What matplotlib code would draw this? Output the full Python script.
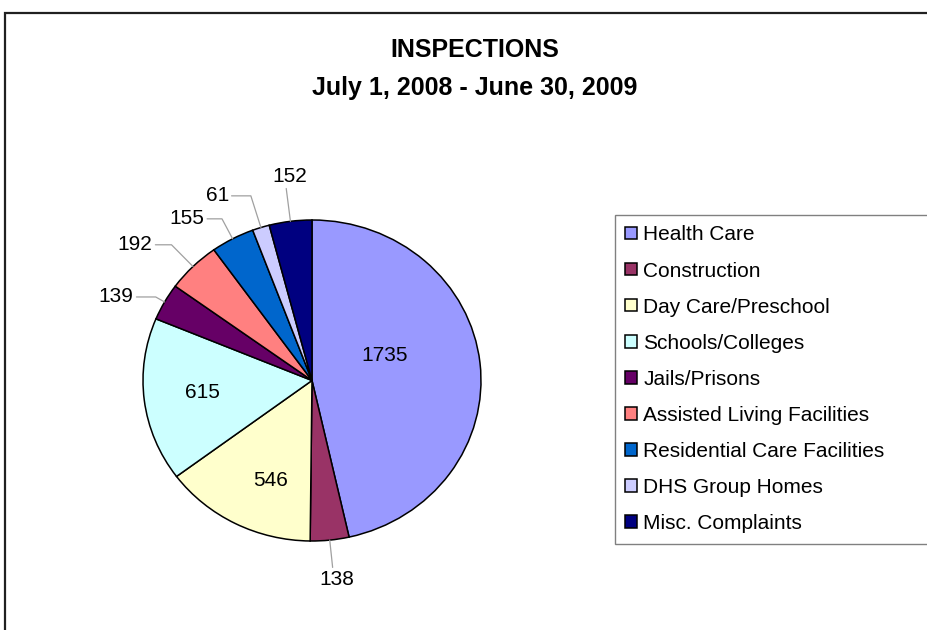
import matplotlib.pyplot as plt
import numpy as np
from matplotlib.patches import Rectangle

categories = ["Health Care", "Construction", "Day Care/Preschool", "Schools/Colleges",
              "Jails/Prisons", "Assisted Living Facilities", "Residential Care Facilities",
              "DHS Group Homes", "Misc. Complaints"]
counts = [1735, 138, 546, 615, 139, 192, 155, 61, 152]
colors = ["#9999FF", "#993366", "#FFFFCC", "#CCFFFF", "#660066",
          "#FF8080", "#0066CC", "#CCCCFF", "#000080"]

# where each value label goes: (radius, angle nudge in degrees)
# radius < 1 -> inside the slice, otherwise outside with a leader line
label_pos = [(0.46, 13.6), (1.25, 0.8), (0.67, 5.7), (0.65, -0.5), (1.27, 5.1),
             (1.345, 6.3), (1.25, 8.3), (1.28, 8.4), (1.28, -1.3)]

plt.rcParams['font.family'] = ['Liberation Sans', 'DejaVu Sans']

fig = plt.figure(figsize=(9.27, 6.30), dpi=100)

# outer chart frame (runs off the right and bottom of the picture)
fig.add_artist(Rectangle((5 / 927, -0.1), 2, 1 - 13 / 630 + 0.1, transform=fig.transFigure,
                         fill=False, edgecolor='#202020', linewidth=1.6))

fig.text(475 / 927, 1 - 50 / 630, 'INSPECTIONS', ha='center', va='center',
         fontsize=18, fontweight='bold')
fig.text(475 / 927, 1 - 88 / 630, 'July 1, 2008 - June 30, 2009', ha='center', va='center',
         fontsize=18, fontweight='bold')

ax = fig.add_axes([143 / 927, 89 / 630, 338 / 927, 321 / 630])
wedges, _ = ax.pie(counts, colors=colors, startangle=90, counterclock=False,
                   wedgeprops=dict(edgecolor='black', linewidth=1.1))
ax.set_aspect('auto')
ax.set_xlim(-1, 1)
ax.set_ylim(-1, 1)

for w, n, (r, nudge) in zip(wedges, counts, label_pos):
    mid = (w.theta1 + w.theta2) / 2
    ang = np.deg2rad(mid + nudge)
    tx, ty = r * np.cos(ang), r * np.sin(ang)
    if r < 1:
        ax.text(tx, ty, str(n), ha='center', va='center', fontsize=15)
    else:
        ex, ey = np.cos(np.deg2rad(mid)), np.sin(np.deg2rad(mid))
        ax.annotate(str(n), xy=(ex, ey), xytext=(tx, ty), ha='center', va='center',
                    fontsize=15, annotation_clip=False,
                    arrowprops=dict(arrowstyle='-', color='#a0a0a0', lw=0.9,
                                    shrinkA=0, shrinkB=0,
                                    connectionstyle=f'angle,angleA=0,angleB={mid},rad=0'))

fig.legend(wedges, categories, loc='upper left',
           bbox_to_anchor=(615 / 927, 1 - 545 / 630, 0.4, 330 / 630),
           mode='expand', fontsize=15, fancybox=False, framealpha=1,
           edgecolor='#808080', borderpad=0.5, labelspacing=0.82,
           handlelength=0.55, handleheight=0.55, handletextpad=0.3, borderaxespad=0)

fig.savefig('out.png', dpi=100)
